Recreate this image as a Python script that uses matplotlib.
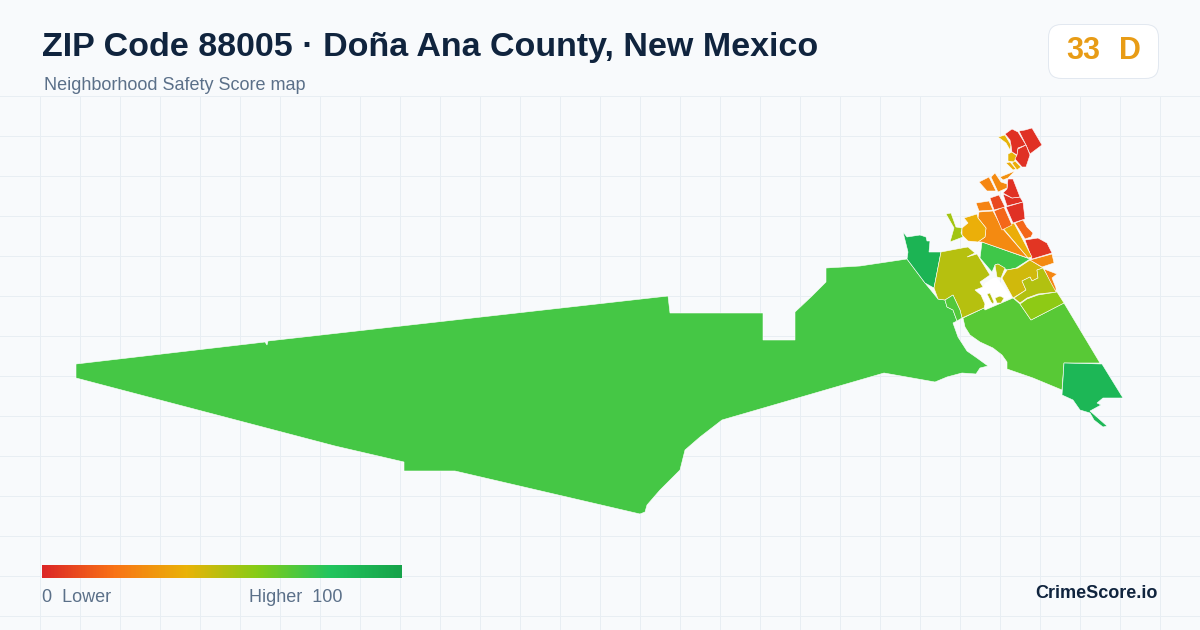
import matplotlib
matplotlib.use('Agg')
import matplotlib.pyplot as plt
import numpy as np
from matplotlib.collections import PolyCollection
from matplotlib.colors import LinearSegmentedColormap, Normalize
from matplotlib.patches import FancyBboxPatch

plt.rcParams['font.family'] = ['Liberation Sans', 'DejaVu Sans']

title = 'ZIP Code 88005 · Doña Ana County, New Mexico'
subtitle = 'Neighborhood Safety Score map'
score_value = '33'
score_grade = 'D'
brand = 'CrimeScore.io'

# colour scale of the legend
scale_stops = [0, 20, 40, 60, 80, 100]
scale_colors = ['#dc2626', '#f97316', '#eab308', '#84cc16', '#22c55e', '#16a34a']

# tract outlines, in picture pixels
west_tract = [(76,364),(265,342),(267,345),(268,341),(668,296),(670,313),(763,313),(763,340),(795,340),(795,312),
              (812,296),(826,282),(826,268),(860,266),(907,259),(925,283),(938,299),(945,300),(947,307),(953,310),
              (957,321),(953,323),(958,337),(967,351),(977,358),(988,366),(980,368),(976,374),(962,373),(947,377),
              (935,382),(884,373),(722,420),(700,437),(685,450),(680,470),(660,490),(647,505),(645,512),(640,514),
              (455,471),(404,471),(404,462),(335,446),(76,378)]
south_tract = [(963,318),(965,327),(970,335),(980,342),(993,348),(1002,355),(1007,362),(1007,369),(1033,378),
               (1062,390),(1064,363),(1100,363),(1064,303),(1031,320),(1020,304),(1013,298),(985,310),(984,308)]
southeast_tract = [(1064,363),(1102,364),(1123,398),(1103,398),(1097,403),(1101,405),(1090,411),(1107,426),(1103,427),
                   (1094,420),(1090,413),(1080,410),(1073,400),(1062,395)]
northwest_tract = [(903,232),(907,237),(920,235),(926,237),(927,241),(930,241),(929,252),(941,252),(934,288),(925,283),(907,259),(908,252)]
olive_tract = [(941,252),(962,248),(968,247),(975,253),(967,257),(977,254),(990,275),(980,282),(983,287),(975,290),
               (981,295),(985,304),(984,308),(962,318),(960,310),(953,295),(945,300),(938,299),(934,288)]
river_tract = [(945,300),(953,295),(960,310),(962,318),(957,321),(953,310),(947,307)]
north_green = [(982,242),(1030,259),(1016,268),(1007,270),(998,264),(995,265),(992,272),(980,258)]
blob_tract = [(995,265),(998,264),(1005,268),(1001,278),(997,277)]
middle_tract = [(1002,278),(1007,270),(1018,268),(1030,260),(1043,268),(1037,270),(1038,278),(1032,281),(1030,277),(1022,281),(1026,290),(1013,298)]
east_tract = [(1043,268),(1057,292),(1038,294),(1027,298),(1020,303),(1014,298),(1026,290),(1022,281),(1030,277),(1032,281),(1038,278),(1037,270)]
lower_tract = [(1020,304),(1027,299),(1038,295),(1057,292),(1064,303),(1031,320)]
inner_a = [(987,294),(990,293),(994,302),(993,304),(991,302)]
inner_b = [(995,298),(1000,296),(1004,298),(1001,303),(997,303)]
sliver = [(1044,269),(1057,274),(1052,278),(1056,288),(1056,292),(1050,281)]
strip = [(1030,260),(1052,254),(1054,263),(1042,267)]
red_east = [(1025,240),(1038,238),(1047,243),(1052,253),(1032,259)]
red_orange = [(1015,223),(1023,220),(1027,227),(1033,233),(1031,237),(1025,239)]
yellow_wedge = [(1002,227),(1014,223),(1032,257),(1028,258)]
orange_big = [(979,212),(993,211),(1002,228),(1028,258),(982,242),(978,242),(985,237),(986,228),(978,218)]
yellow_blob = [(964,218),(977,214),(978,218),(986,228),(985,237),(978,242),(968,241),(962,235),(962,228),(968,223)]
lime_strip = [(946,214),(951,213),(956,227),(962,228),(961,233),(963,237),(950,242),(954,228)]
mid_orange = [(994,211),(1004,207),(1012,225),(1002,230)]
small_red = [(990,198),(999,195),(1005,207),(994,210)]
small_orange = [(976,203),(989,201),(993,210),(979,211)]
red_a = [(1003,194),(1012,198),(1020,197),(1023,202),(1007,206)]
red_b = [(1006,207),(1023,202),(1025,219),(1013,223)]
red_strip = [(1008,179),(1013,179),(1020,197),(1012,198),(1003,193),(1007,189)]
orange_a = [(979,182),(989,177),(996,191),(987,191)]
orange_b = [(991,177),(995,173),(1001,182),(1007,184),(1007,188),(998,192)]
orange_c = [(1000,177),(1015,171),(1008,178),(1003,180)]
yellow_a = [(998,137),(1005,135),(1011,145),(1010,150),(1006,143)]
yellow_b = [(1008,154),(1012,152),(1017,156),(1014,162),(1008,161)]
yellow_c = [(1006,163),(1010,162),(1016,169),(1013,170)]
yellow_d = [(1012,163),(1015,161),(1021,167),(1017,170)]
red_top_a = [(1005,134),(1012,129),(1018,132),(1026,145),(1018,148),(1017,155),(1012,152),(1011,145),(1010,140)]
red_top_b = [(1019,131),(1025,130),(1032,128),(1042,145),(1030,154),(1026,145)]
red_top_c = [(1018,149),(1026,145),(1030,155),(1026,167),(1022,167),(1015,159),(1017,155)]

tract_shapes = [west_tract, south_tract, southeast_tract, northwest_tract, olive_tract, river_tract, north_green,
                blob_tract, middle_tract, east_tract, lower_tract, inner_a, inner_b, sliver, strip, red_east,
                red_orange, yellow_wedge, orange_big, yellow_blob, lime_strip, mid_orange, small_red, small_orange,
                red_a, red_b, red_strip, orange_a, orange_b, orange_c, yellow_a, yellow_b, yellow_c, yellow_d,
                red_top_a, red_top_b, red_top_c]
tract_scores = [73, 69, 88, 90, 50, 70, 74,
                50, 45, 51, 58, 50, 50, 26, 27, 4,
                17, 38, 27, 39, 54, 17, 9, 25,
                3, 3, 3, 26, 27, 29, 41, 41, 38, 38,
                3, 3, 3]
hole = [(993,278),(997,278),(1012,297),(985,310),(982,303),(986,302),(975,290),(983,287),(985,283)]

fig = plt.figure(figsize=(12, 6.3), dpi=100, facecolor='#f8fafc')
ax = fig.add_axes([0, 0, 1, 1])
ax.set_xlim(0, 1200)
ax.set_ylim(630, 0)
ax.axis('off')

for x in range(40, 1200, 40):
    ax.plot([x, x], [96, 630], color='#e8eef3', lw=0.72, zorder=1)
for y in range(96, 630, 40):
    ax.plot([0, 1200], [y, y], color='#e8eef3', lw=0.72, zorder=1)

cmap = LinearSegmentedColormap.from_list('score', [(s / 100, c) for s, c in zip(scale_stops, scale_colors)])
norm = Normalize(0, 100)

ax.fill([p[0] for p in hole], [p[1] for p in hole], color='white', lw=0, zorder=2)
tracts = PolyCollection(tract_shapes, array=np.array(tract_scores), cmap=cmap, norm=norm,
                        edgecolors='white', linewidths=0.4, joinstyle='miter', zorder=3)
ax.add_collection(tracts)

ax.text(42, 47.5, title, fontsize=24.45, fontweight='bold', color='#10243e', va='center', ha='left')
ax.text(44, 85, subtitle, fontsize=12.95, color='#5b7089', va='center', ha='left')

badge = FancyBboxPatch((1048.5, 24.5), 110, 54, boxstyle='round,pad=0,rounding_size=13',
                       facecolor='white', edgecolor='#e2e8f0', lw=0.72, zorder=4)
ax.add_patch(badge)
ax.text(1083, 51, score_value, fontsize=22, fontweight='bold', color='#e89c16', va='center', ha='center', zorder=5)
ax.text(1130, 51, score_grade, fontsize=22, fontweight='bold', color='#e89c16', va='center', ha='center', zorder=5)

# legend
gradient = np.linspace(0, 100, 360).reshape(1, -1)
ax.imshow(gradient, cmap=cmap, norm=norm, extent=[42, 402, 578, 565], aspect='auto', zorder=3)
ax.set_xlim(0, 1200)
ax.set_ylim(630, 0)
ax.text(42, 597, '0  Lower', fontsize=12.95, color='#5b7089', va='center', ha='left')
ax.text(249, 597, 'Higher  100', fontsize=12.95, color='#5b7089', va='center', ha='left')
ax.text(1158, 593, brand, fontsize=13, fontweight='bold', color='#10243e', va='center', ha='right')

fig.savefig('out.png', dpi=100, facecolor=fig.get_facecolor())
